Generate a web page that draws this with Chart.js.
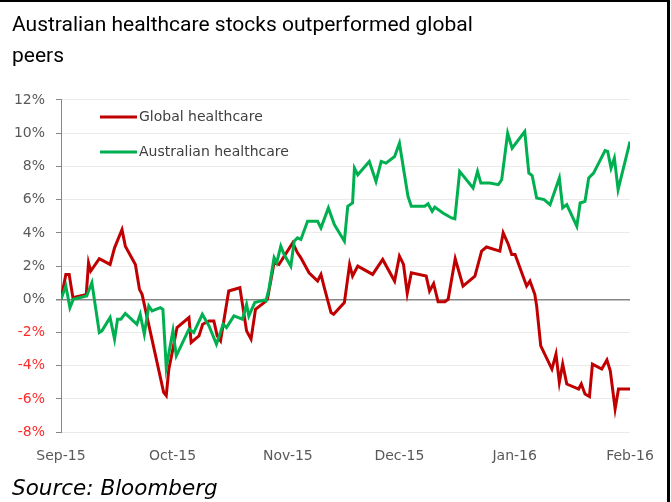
<!DOCTYPE html>
<html>
<head>
<meta charset="utf-8">
<title>Australian healthcare stocks outperformed global peers</title>
<script src="https://cdn.jsdelivr.net/npm/chart.js@4.4.1/dist/chart.umd.min.js"></script>
<style>
  html, body { margin: 0; padding: 0; background: #fff; }
</style>
</head>
<body>
<canvas id="chart" width="671" height="502"></canvas>
<script>
// x values are days counted from 1 Sep 2015
const monthStarts = [0, 30, 61, 91, 122, 153];
const monthLabels = ["Sep-15", "Oct-15", "Nov-15", "Dec-15", "Jan-16", "Feb-16"];
const seriesNames = ["Global healthcare", "Australian healthcare"];

// Global healthcare (% change)
const globalDays = [0, 1.3, 2.2, 3.2, 6.0, 6.8, 7.4, 8.0, 10.3, 13.2, 14.4, 16.4, 17.3, 20.0, 21.1,
  21.8, 27.6, 28.3, 29.0, 29.9, 31.2, 34.4, 35.0, 37.1, 38.1, 39.8, 41.1, 42.0, 42.9, 45.1,
  48.1, 49.9, 51.1, 52.3, 54.6, 55.5, 57.3, 58.6, 62.3, 63.6, 64.5, 66.7, 69.0, 69.9, 70.8,
  72.6, 73.3, 76.2, 77.6, 78.4, 79.8, 83.8, 86.5, 89.7, 91.0, 92.1, 93.1, 94.2, 98.2, 99.1,
  100.2, 101.4, 103.2, 104.1, 106.0, 108.1, 111.3, 113.1, 114.4, 118.0, 118.9, 120.3, 121.2, 122.1, 125.2,
  126.1, 127.4, 127.9, 129.0, 132.0, 133.1, 134.0, 134.9, 136.0, 139.2, 139.9, 140.9, 142.1, 142.9, 145.4,
  146.8, 147.7, 149.0, 149.9, 153.0];
const globalValues = [0, 1.5, 1.5, 0.1, 0.25, 0.3, 2.2, 1.7, 2.45, 2.1, 3.1, 4.2, 3.2, 2.1, 0.6,
  0.3, -5.6, -5.8, -4.2, -3.2, -1.7, -1.1, -2.6, -2.2, -1.5, -1.3, -1.3, -2.2, -2.5, 0.5,
  0.7, -1.9, -2.4, -0.6, -0.2, 0, 2.2, 2.1, 3.4, 2.8, 2.5, 1.6, 1.1, 1.5, 0.7,
  -0.8, -0.9, -0.2, 2.1, 1.4, 2.0, 1.5, 2.4, 1.1, 2.6, 2.1, 0.35, 1.6, 1.4, 0.5,
  0.95, -0.15, -0.15, 0, 2.45, 0.8, 1.4, 2.9, 3.15, 2.9, 4.0, 3.3, 2.7, 2.7, 0.8,
  1.1, 0.3, -0.4, -2.8, -4.2, -3.3, -5.0, -3.9, -5.1, -5.4, -5.1, -5.7, -5.85, -3.9, -4.2,
  -3.65, -4.3, -6.6, -5.4, -5.4];

// Australian healthcare (% change)
const ausDays = [0, 1.3, 2.4, 3.3, 6.9, 8.3, 10.3, 11.0, 13.2, 14.4, 15.2, 16.1, 17.3, 20.4, 21.3,
  22.4, 23.6, 24.5, 26.7, 27.4, 28.3, 30.1, 31.0, 34.4, 35.7, 38.0, 39.8, 41.8, 43.6, 44.5,
  46.5, 48.8, 49.9, 50.5, 52.1, 54.6, 55.1, 55.9, 57.3, 58.0, 59.1, 60.0, 61.8, 62.7, 63.6,
  64.5, 66.3, 69.0, 69.9, 71.9, 73.5, 76.2, 77.1, 78.4, 78.9, 79.8, 82.9, 84.7, 86.1, 87.4,
  89.7, 91.0, 93.3, 94.2, 97.8, 98.7, 99.8, 100.5, 102.7, 105.0, 105.9, 107.2, 110.8, 112.0, 112.9,
  115.3, 117.6, 118.5, 120.1, 121.3, 124.7, 125.8, 126.7, 127.9, 129.9, 131.5, 134.0, 134.9, 136.0, 138.7,
  139.6, 140.9, 141.9, 143.2, 146.3, 147.0, 147.9, 148.8, 149.8, 153.0];
const ausValues = [0, 0.8, -0.5, 0, 0.2, 1.0, -2.0, -1.9, -1.1, -2.4, -1.2, -1.2, -0.85, -1.5, -0.9,
  -2.1, -0.4, -0.7, -0.5, -0.6, -4.1, -1.9, -3.4, -1.8, -2.0, -0.9, -1.6, -2.7, -1.5, -1.7,
  -1.0, -1.2, -0.3, -1.0, -0.2, -0.05, -0.1, 0.6, 2.5, 2.2, 3.2, 2.7, 2.0, 3.5, 3.7,
  3.6, 4.7, 4.7, 4.3, 5.5, 4.5, 3.5, 5.6, 5.8, 7.9, 7.5, 8.3, 7.1, 8.3, 8.2,
  8.6, 9.4, 6.2, 5.6, 5.6, 5.75, 5.3, 5.55, 5.2, 4.9, 4.85, 7.7, 6.7, 7.7, 7.0,
  7.0, 6.9, 7.2, 10.0, 9.1, 10.1, 7.6, 7.45, 6.1, 6.0, 5.7, 7.3, 5.5, 5.7, 4.4,
  5.8, 5.9, 7.3, 7.6, 8.95, 8.9, 7.9, 8.5, 6.6, 9.5];

const toPoints = (xs, ys) => xs.map((x, i) => ({ x: x, y: ys[i] }));

// legend sits inside the plot, top left
const innerLegend = {
  id: "innerLegend",
  afterDatasetsDraw(chart) {
    const { ctx, chartArea } = chart;
    const items = [chart.data.datasets[1], chart.data.datasets[0]];
    ctx.save();
    ctx.font = '14px "DejaVu Sans"';
    ctx.textBaseline = "middle";
    ctx.textAlign = "left";
    items.forEach((ds, i) => {
      const y = chartArea.top + 17 + i * 35;
      ctx.strokeStyle = ds.borderColor;
      ctx.lineWidth = 3;
      ctx.beginPath();
      ctx.moveTo(chartArea.left + 39, y);
      ctx.lineTo(chartArea.left + 76, y);
      ctx.stroke();
      ctx.fillStyle = "#404040";
      ctx.fillText(ds.label, chartArea.left + 78, y);
    });
    ctx.restore();
  }
};

// black frame on top and right edge
const frame = {
  id: "frame",
  afterDraw(chart) {
    const ctx = chart.ctx;
    ctx.save();
    ctx.fillStyle = "#000";
    ctx.fillRect(0, 0, 670, 2);
    ctx.fillRect(667, 0, 3, 502);
    ctx.restore();
  }
};

new Chart(document.getElementById("chart"), {
  type: "line",
  data: {
    datasets: [
      {
        label: seriesNames[1],
        data: toPoints(ausDays, ausValues),
        borderColor: "#00b050",
        borderWidth: 3,
        pointRadius: 0,
        tension: 0
      },
      {
        label: seriesNames[0],
        data: toPoints(globalDays, globalValues),
        borderColor: "#c00000",
        borderWidth: 3,
        pointRadius: 0,
        tension: 0
      }
    ]
  },
  options: {
    responsive: false,
    animation: false,
    layout: { padding: { top: 0, left: 12, right: 41, bottom: 0 } },
    plugins: {
      legend: { display: false },
      tooltip: { enabled: false },
      title: {
        display: true,
        text: ["Australian healthcare stocks outperformed global", "peers"],
        align: "start",
        color: "#000",
        font: { family: "Roboto", size: 21, weight: "normal", lineHeight: 1.476 },
        padding: { top: 10, bottom: 28 }
      },
      subtitle: {
        display: true,
        position: "bottom",
        text: "Source: Bloomberg",
        align: "start",
        color: "#000",
        font: { family: "DejaVu Sans", size: 21.5, style: "italic" },
        padding: { top: 4, bottom: 0 }
      }
    },
    scales: {
      x: {
        type: "linear",
        min: monthStarts[0],
        max: monthStarts[monthStarts.length - 1],
        afterBuildTicks: (axis) => {
          axis.ticks = monthStarts.map((v) => ({ value: v }));
        },
        afterFit: (axis) => { axis.height = 40; },
        grid: { display: false, drawTicks: false },
        border: { display: false },
        ticks: {
          autoSkip: false,
          maxRotation: 0,
          padding: 16,
          color: "#595959",
          font: { family: "DejaVu Sans", size: 14 },
          callback: (value, index) => monthLabels[index]
        }
      },
      y: {
        min: -8,
        max: 12,
        afterFit: (axis) => { axis.width = 49; },
        ticks: {
          stepSize: 2,
          padding: 11,
          font: { family: "DejaVu Sans", size: 14 },
          color: (c) => (c.tick.value < 0 ? "#ff2a2a" : "#595959"),
          callback: (v) => v + "%"
        },
        grid: {
          tickLength: 5,
          tickColor: "#868686",
          color: (c) => (c.tick.value === 0 ? "#868686" : "#ebebeb"),
          lineWidth: (c) => (c.tick.value === 0 ? 1.5 : 1)
        },
        border: { display: true, color: "#868686", width: 1 }
      }
    }
  },
  plugins: [innerLegend, frame]
});
</script>
</body>
</html>
